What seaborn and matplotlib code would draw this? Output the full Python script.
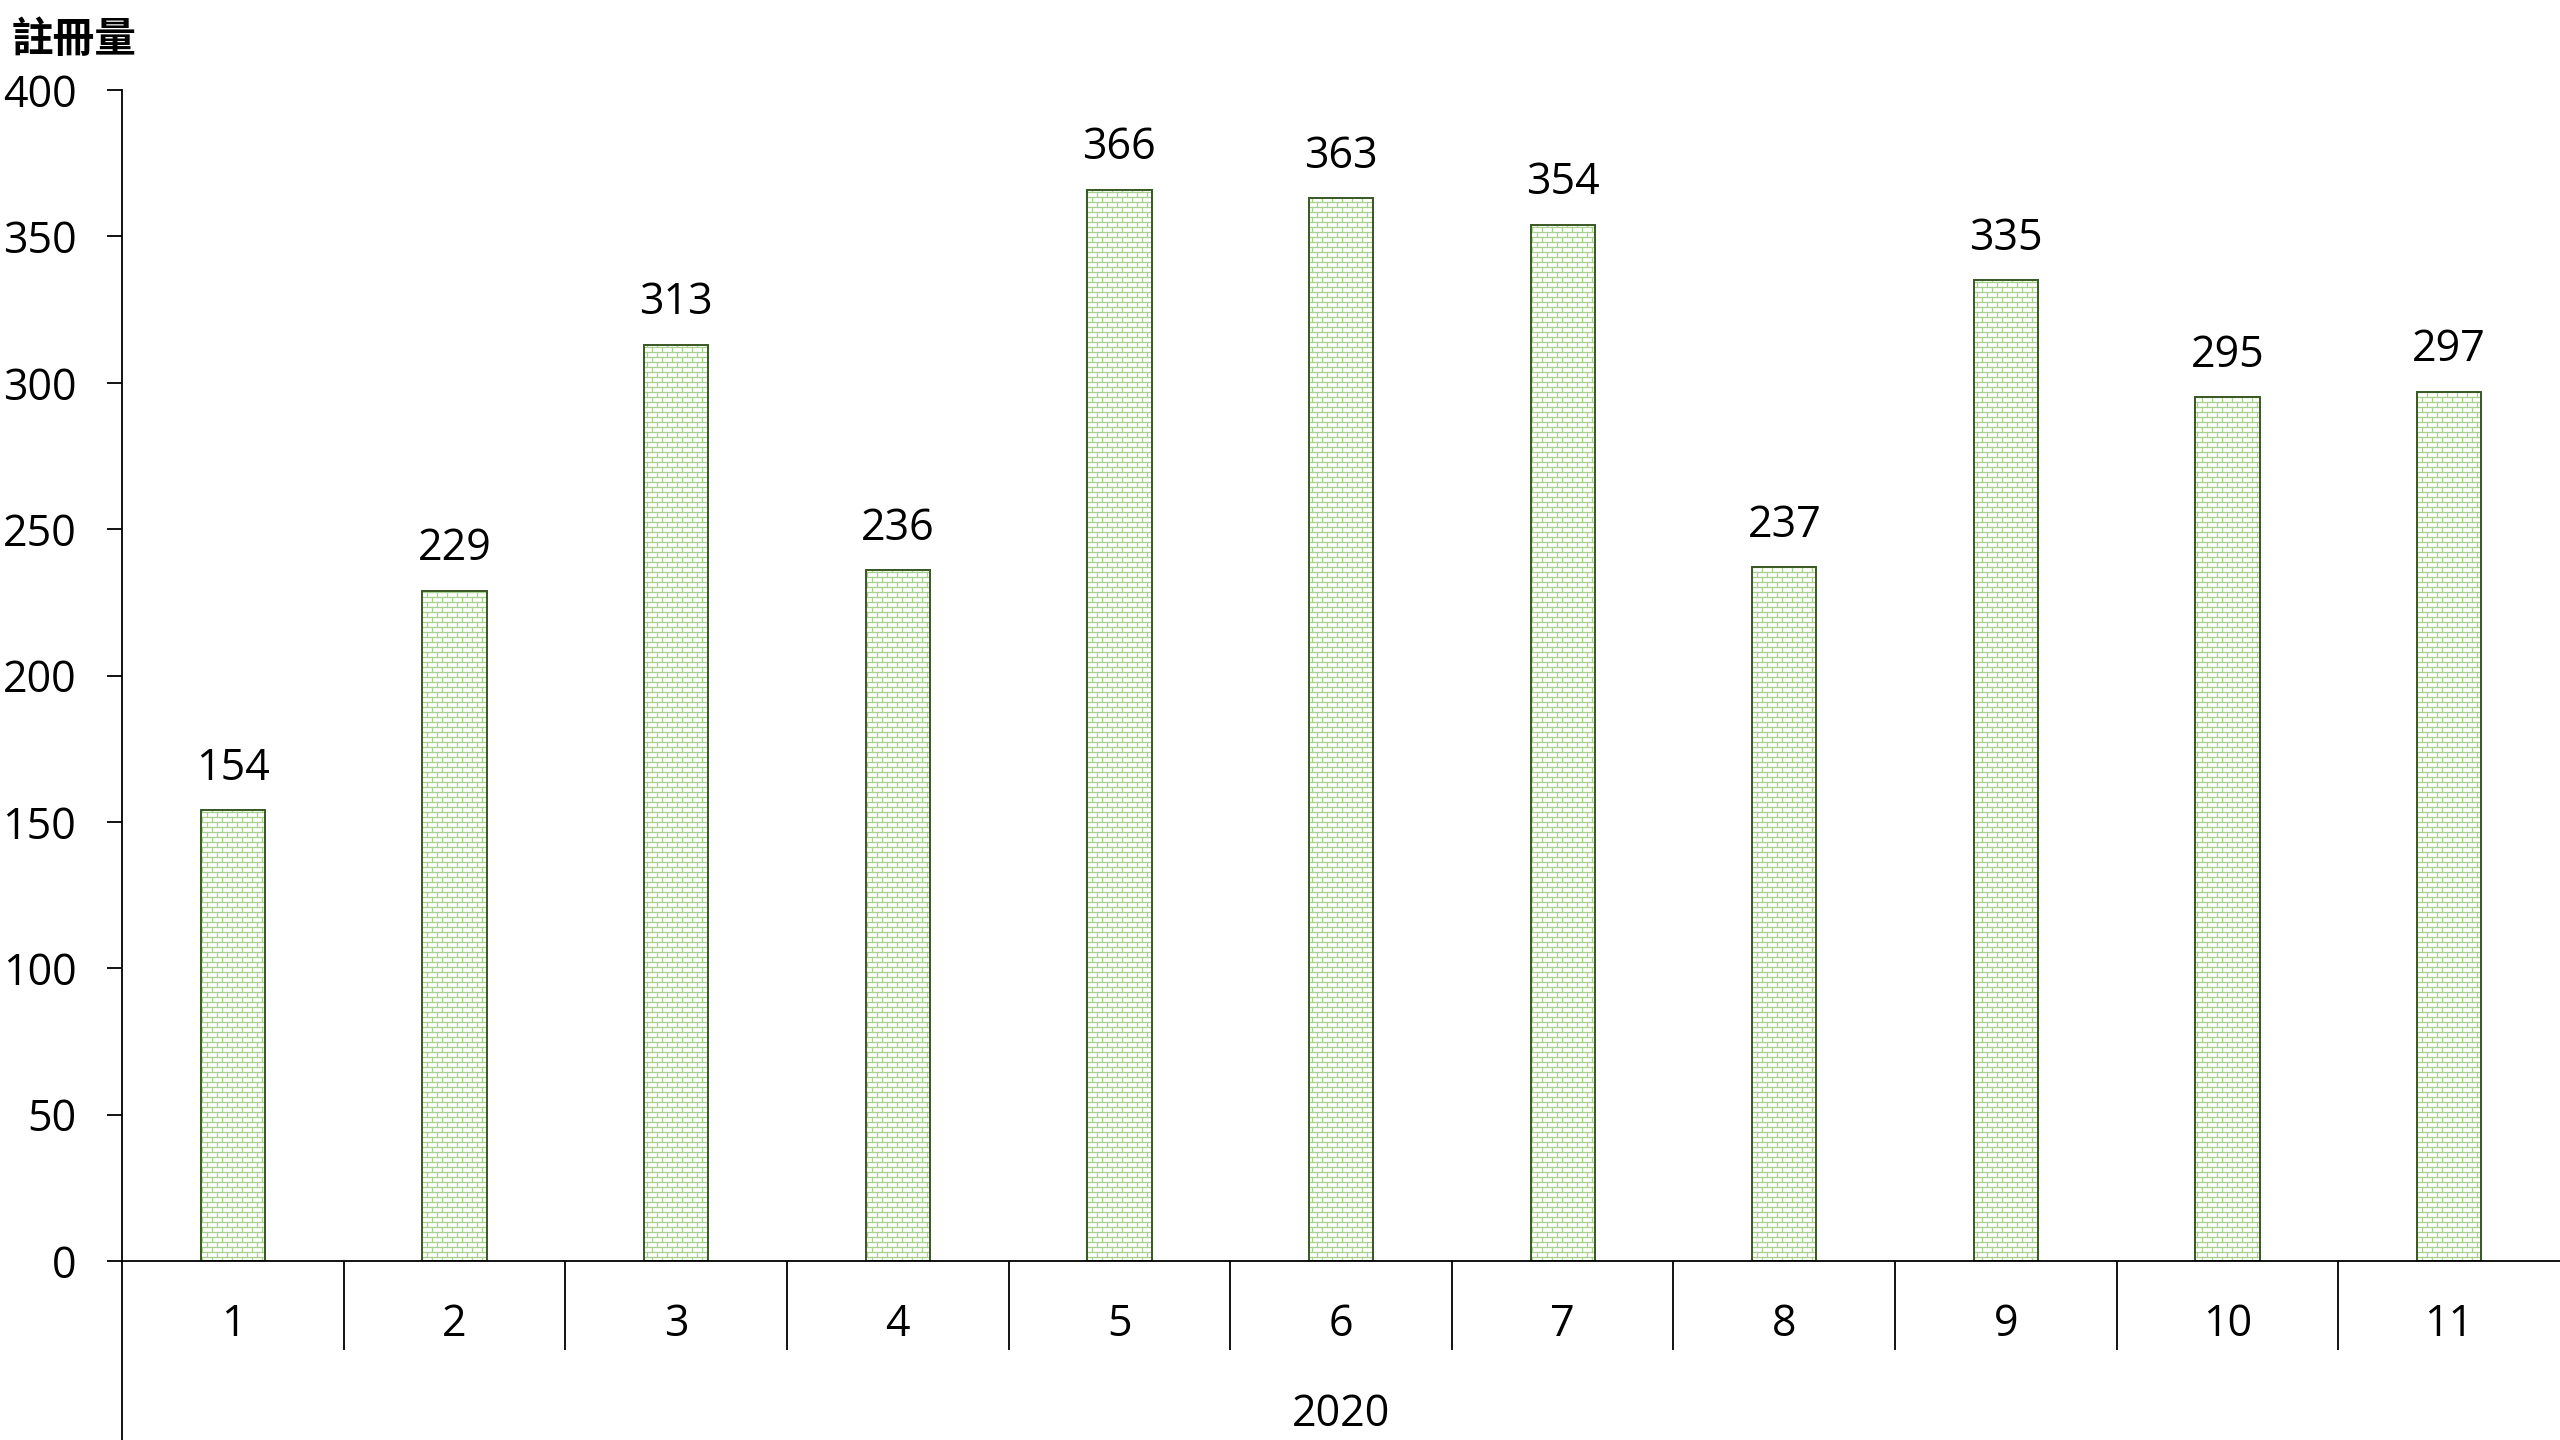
import warnings
import numpy as np
import matplotlib
matplotlib.use("Agg")
import matplotlib.pyplot as plt
import matplotlib.hatch as mhatch
from matplotlib.path import Path
from matplotlib.lines import Line2D
import seaborn as sns

warnings.filterwarnings("ignore")

# Data
months = ["1", "2", "3", "4", "5", "6", "7", "8", "9", "10", "11"]
registrations = [154, 229, 313, 236, 366, 363, 354, 237, 335, 295, 297]
year_label = "2020"
y_title = "註冊量"
y_ticks = [0, 50, 100, 150, 200, 250, 300, 350, 400]

HATCH_GREEN = "#a9d18e"
EDGE_GREEN = "#385723"


# Brick hatch pattern (the "b" character)
class BrickHatch(mhatch.HatchPatternBase):
    def __init__(self, hatch, density):
        self.rows = 20 if "b" in hatch else 0
        self.cols = 10
        self.num_vertices = self.rows * 2 + (self.rows + 1) * self.cols * 2

    def set_vertices_and_codes(self, vertices, codes):
        h = 1.0 / self.rows
        w = 1.0 / self.cols
        i = 0
        for r in range(self.rows):
            y = (r + 0.5) * h
            vertices[i] = (0.0, y)
            vertices[i + 1] = (1.0, y)
            codes[i] = Path.MOVETO
            codes[i + 1] = Path.LINETO
            i += 2
        for r in range(self.rows + 1):
            y0, y1 = (r - 0.5) * h, (r + 0.5) * h
            for c in range(self.cols):
                x = (c + 0.25 + 0.5 * (r % 2)) * w
                vertices[i] = (x, y0)
                vertices[i + 1] = (x, y1)
                codes[i] = Path.MOVETO
                codes[i + 1] = Path.LINETO
                i += 2


mhatch._hatch_types.append(BrickHatch)

sns.set_theme(style="white")
plt.rcParams["font.family"] = ["Open Sans", "Noto Sans CJK TC", "DejaVu Sans"]
plt.rcParams["hatch.linewidth"] = 0.9

fig = plt.figure(figsize=(25.6, 14.4), dpi=100)
ax = fig.add_axes([0.0477, 0.1243, 1 - 0.0477, 0.9375 - 0.1243])

# hatched fill
sns.barplot(x=months, y=registrations, ax=ax, width=0.29, color="white",
            saturation=1, edgecolor=HATCH_GREEN, linewidth=0, hatch="b")
# dark outline
sns.barplot(x=months, y=registrations, ax=ax, width=0.29, color=EDGE_GREEN,
            saturation=1, fill=False, linewidth=1.4)

ax.bar_label(ax.containers[1], labels=[str(v) for v in registrations],
             fontsize=31, padding=14, color="black")

ax.set_ylim(0, 400)
ax.set_xlim(-0.5, len(months) - 0.5)
ax.set_yticks(y_ticks)
ax.set_xlabel("")
ax.set_ylabel("")

for s in ["top", "right"]:
    ax.spines[s].set_visible(False)
for s in ["left", "bottom"]:
    ax.spines[s].set_color("black")
    ax.spines[s].set_linewidth(1.3)

ax.tick_params(axis="y", direction="out", length=11, width=1.3, pad=22,
               labelsize=31, colors="black", left=True)
ax.tick_params(axis="x", which="major", length=0, pad=30, labelsize=31,
               colors="black")
ax.set_xticks(np.arange(0.5, len(months) - 1, 1), minor=True)
ax.tick_params(axis="x", which="minor", direction="out", length=64, width=1.3,
               color="black", bottom=True)

# left axis line continues down past the category row
ax.add_line(Line2D([0, 0], [0, -0.155], transform=ax.transAxes,
                   clip_on=False, color="black", lw=1.3))

ax.text(0.5, -0.131, year_label, transform=ax.transAxes, ha="center",
        va="center", fontsize=31, color="black")

fig.text(12 / 2560, 1 - 40 / 1440, y_title, ha="left", va="center",
         fontsize=30, fontweight="bold", color="black",
         family=["Noto Sans CJK TC", "DejaVu Sans"])

fig.savefig("out.png", dpi=100)
